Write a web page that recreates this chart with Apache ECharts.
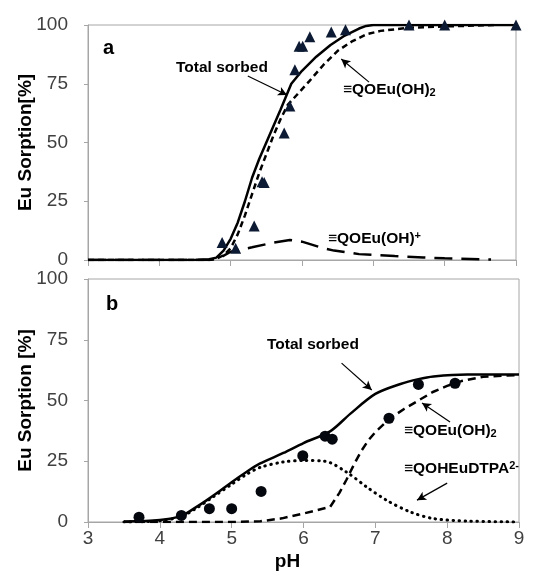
<!DOCTYPE html>
<html><head><meta charset="utf-8">
<script src="https://cdn.jsdelivr.net/npm/echarts@6/dist/echarts.min.js"></script>
<style>html,body{margin:0;padding:0;background:#fff}#c{width:534px;height:575px}</style>
</head><body><div id="c"></div>
<script>
// ---------- DATA ----------
const xTicks = [3, 4, 5, 6, 7, 8, 9];
const yTicks = [0, 25, 50, 75, 100];

// Panel a
const phA_pts   = [4.88, 5.07, 5.33, 5.44, 5.47, 5.75, 5.83, 5.90, 5.96, 6.01, 6.11, 6.41, 6.61, 7.5, 8.0, 9.0];
const sorbA_pts = [7.4, 5.0, 14.5, 33.3, 33.0, 54, 65.5, 81, 91, 91, 95, 97, 98, 100, 100, 100];

const phA_total   = [3, 4.5, 4.7, 4.8, 4.9, 5.0, 5.1, 5.2, 5.3, 5.4, 5.5, 5.6, 5.7, 5.85, 6.0, 6.2, 6.4, 6.6, 6.8, 6.9, 7.0, 8.0, 9.0];
const sorbA_total = [0, 0, 0.3, 1, 4, 9, 16, 25, 35, 43, 50, 57, 64, 75, 80.5, 86.5, 91.5, 95.5, 98.5, 99.6, 100, 100, 100];

const phA_oh2   = [3, 4.7, 4.8, 4.9, 5.0, 5.1, 5.2, 5.3, 5.4, 5.5, 5.6, 5.7, 5.8, 5.92, 6.1, 6.3, 6.5, 6.7, 6.9, 7.1, 7.5, 8.0, 8.73];
const sorbA_oh2 = [0, 0, 0.5, 2, 5, 11, 19, 28, 37, 45, 53, 60, 66, 70, 76, 83, 89, 93, 96, 97.5, 98.8, 99.4, 100];

const phA_oh   = [3, 4.7, 4.85, 5.0, 5.3, 5.6, 5.83, 6.0, 6.3, 6.45, 6.8, 7.3, 7.7, 8.0, 8.65];
const sorbA_oh = [0, 0, 1, 3.5, 5.4, 7.4, 8.5, 7.8, 5, 4, 2.5, 1.7, 1.1, 0.7, 0.2];

// Panel b
const phB_pts   = [3.71, 4.30, 4.69, 5.00, 5.41, 5.99, 6.30, 6.40, 7.19, 7.60, 8.11];
const sorbB_pts = [2.0, 2.7, 5.5, 5.5, 12.6, 27.3, 35.3, 34.1, 42.7, 56.6, 57.1];

const phB_total   = [3.5, 4.0, 4.3, 4.5, 4.65, 4.8, 5.0, 5.2, 5.39, 5.72, 6.0, 6.37, 6.65, 7.0, 7.35, 7.6, 7.81, 8.28, 9];
const sorbB_total = [0.2, 0.8, 2.5, 6, 8.9, 12, 16.4, 20.5, 24, 28.4, 32.5, 37.3, 44.5, 52.7, 56.8, 58.8, 59.9, 60.7, 60.7];

const phB_oh2   = [3.5, 4.5, 5.0, 5.4, 5.7, 6.0, 6.37, 6.5, 6.6, 6.7, 6.8, 6.9, 7.0, 7.2, 7.4, 7.6, 7.8, 8.0, 8.2, 8.5, 9];
const sorbB_oh2 = [0, 0, 0, 0.3, 1.5, 3.5, 6.2, 12, 17.5, 23.5, 29, 33.5, 37, 42.5, 46.5, 50, 53.5, 56, 58, 59.8, 60.5];

const phB_dtpa   = [3.5, 4.0, 4.3, 4.5, 4.75, 5.0, 5.2, 5.4, 5.72, 6.0, 6.3, 6.6, 6.88, 7.16, 7.49, 7.81, 8.28, 9];
const sorbB_dtpa = [0, 0.5, 2.3, 5.5, 10.5, 15.5, 19.5, 22.5, 24.7, 25.3, 25, 20.5, 14.4, 8.9, 4.1, 1.4, 0.4, 0];

// Arrow annotations [x1, y1, x2, y2] in data units (arrowhead at 2nd point)
const arrowsA = [[5.24, 78.3, 5.79, 70.2], [6.94, 75.7, 6.55, 85.5]];
const arrowsB = [[6.53, 65.4, 6.95, 54.3], [8.04, 41.2, 7.65, 49], [8.0, 16, 7.58, 9]];

// ---------- CHART ----------
const zip = (a, b) => a.map((v, i) => [v, b[i]]);
const arrowData = arr => arr.map(a => [{coord: [a[0], a[1]], symbol: 'none'}, {coord: [a[2], a[3]], symbol: 'arrow'}]);
const FONT = '"Liberation Sans", Arial, sans-serif';
const gray = '#a6a6a6';

function xAx(grid, showLabels) {
  return {
    type: 'value', gridIndex: grid, min: xTicks[0], max: xTicks[xTicks.length - 1], interval: 1,
    axisLine: {show: true, lineStyle: {color: gray, width: 1}},
    axisTick: {show: true, length: 6, lineStyle: {color: gray}},
    splitLine: {show: false},
    axisLabel: {show: showLabels, color: '#404040', fontSize: 19, fontFamily: FONT, margin: 7},
    name: showLabels ? 'pH' : '', nameLocation: 'middle', nameGap: 30, nameMoveOverlap: false,
    nameTextStyle: {fontWeight: 'bold', fontSize: 19, color: '#000', fontFamily: FONT, padding: [0, 32, 0, 0]}
  };
}
function yAx(grid, name) {
  return {
    type: 'value', gridIndex: grid, min: 0, max: 100, interval: 25,
    axisLine: {show: true, lineStyle: {color: gray, width: 1}},
    axisTick: {show: true, length: 4, lineStyle: {color: gray}},
    splitLine: {show: false},
    axisLabel: {color: '#404040', fontSize: 19, fontFamily: FONT, margin: 20},
    name: name, nameLocation: 'middle', nameGap: 53, nameMoveOverlap: false,
    nameTextStyle: {fontWeight: 'bold', fontSize: 19, color: '#000', fontFamily: FONT}
  };
}
function lineS(xi, data, width, type, cap, smooth) {
  return {type: 'line', xAxisIndex: xi, yAxisIndex: xi, data: data, showSymbol: false, symbol: 'none',
    smooth: smooth || false,
    lineStyle: {color: '#000', width: width, type: type, cap: cap || 'butt'}, silent: true, z: 3};
}
const arrowML = arr => ({silent: true, symbolSize: [7, 9], label: {show: false},
  lineStyle: {color: '#000', width: 1.2, type: 'solid'}, data: arrowData(arr)});

const rich = {
  sub: {fontSize: 11, fontWeight: 'bold', fontFamily: FONT, color: '#000', verticalAlign: 'bottom', padding: [6, 0, 0, 0]},
  sup: {fontSize: 11, fontWeight: 'bold', fontFamily: FONT, color: '#000', verticalAlign: 'top', padding: [0, 0, 6, 0]}
};
function txt(x, y, t, size) {
  return {type: 'text', left: x, top: y, z: 10,
    style: {text: t, rich: rich, font: 'bold ' + (size || 15.5) + 'px ' + FONT, fill: '#000'}};
}

const chart = echarts.init(document.getElementById('c'));
chart.setOption({
  backgroundColor: '#fff',
  animation: false,
  grid: [
    {left: 88, right: 18, top: 25, height: 235, show: true, borderColor: gray, borderWidth: 1, backgroundColor: 'transparent'},
    {left: 88, right: 15, top: 279, height: 243, show: true, borderColor: gray, borderWidth: 1, backgroundColor: 'transparent'}
  ],
  xAxis: [xAx(0, false), xAx(1, true)],
  yAxis: [yAx(0, 'Eu Sorption[%]'), yAx(1, 'Eu Sorption [%]')],
  series: [
    lineS(0, zip(phA_oh, sorbA_oh), 2.5, [18, 9]),
    lineS(0, zip(phA_oh2, sorbA_oh2), 2.5, [6, 4]),
    Object.assign(lineS(0, zip(phA_total, sorbA_total), 2.5, 'solid'), {markLine: arrowML(arrowsA)}),
    {type: 'scatter', xAxisIndex: 0, yAxisIndex: 0, data: zip(phA_pts, sorbA_pts), symbol: 'triangle', symbolSize: 11,
      itemStyle: {color: '#0d1a33', opacity: 1}, z: 5, clip: false},
    lineS(1, zip(phB_dtpa, sorbB_dtpa), 3, [0.5, 5.5], 'round', 0.3),
    lineS(1, zip(phB_oh2, sorbB_oh2), 2.5, [8, 5]),
    Object.assign(lineS(1, zip(phB_total, sorbB_total), 2.5, 'solid', 'butt', 0.3), {markLine: arrowML(arrowsB)}),
    {type: 'scatter', xAxisIndex: 1, yAxisIndex: 1, data: zip(phB_pts, sorbB_pts), symbol: 'circle', symbolSize: 11,
      itemStyle: {color: '#05070f', opacity: 1}, z: 5}
  ],
  graphic: [
    txt(103, 38, 'a', 20),
    txt(176, 60, 'Total sorbed'),
    txt(343, 82, '≡QOEu(OH){sub|2}'),
    txt(328, 230, '≡QOEu(OH){sup|+}'),
    txt(106, 294, 'b', 20),
    txt(267, 337, 'Total sorbed'),
    txt(404, 423, '≡QOEu(OH){sub|2}'),
    txt(404, 460, '≡QOHEuDTPA{sup|2-}')
  ]
});
</script>
</body></html>
